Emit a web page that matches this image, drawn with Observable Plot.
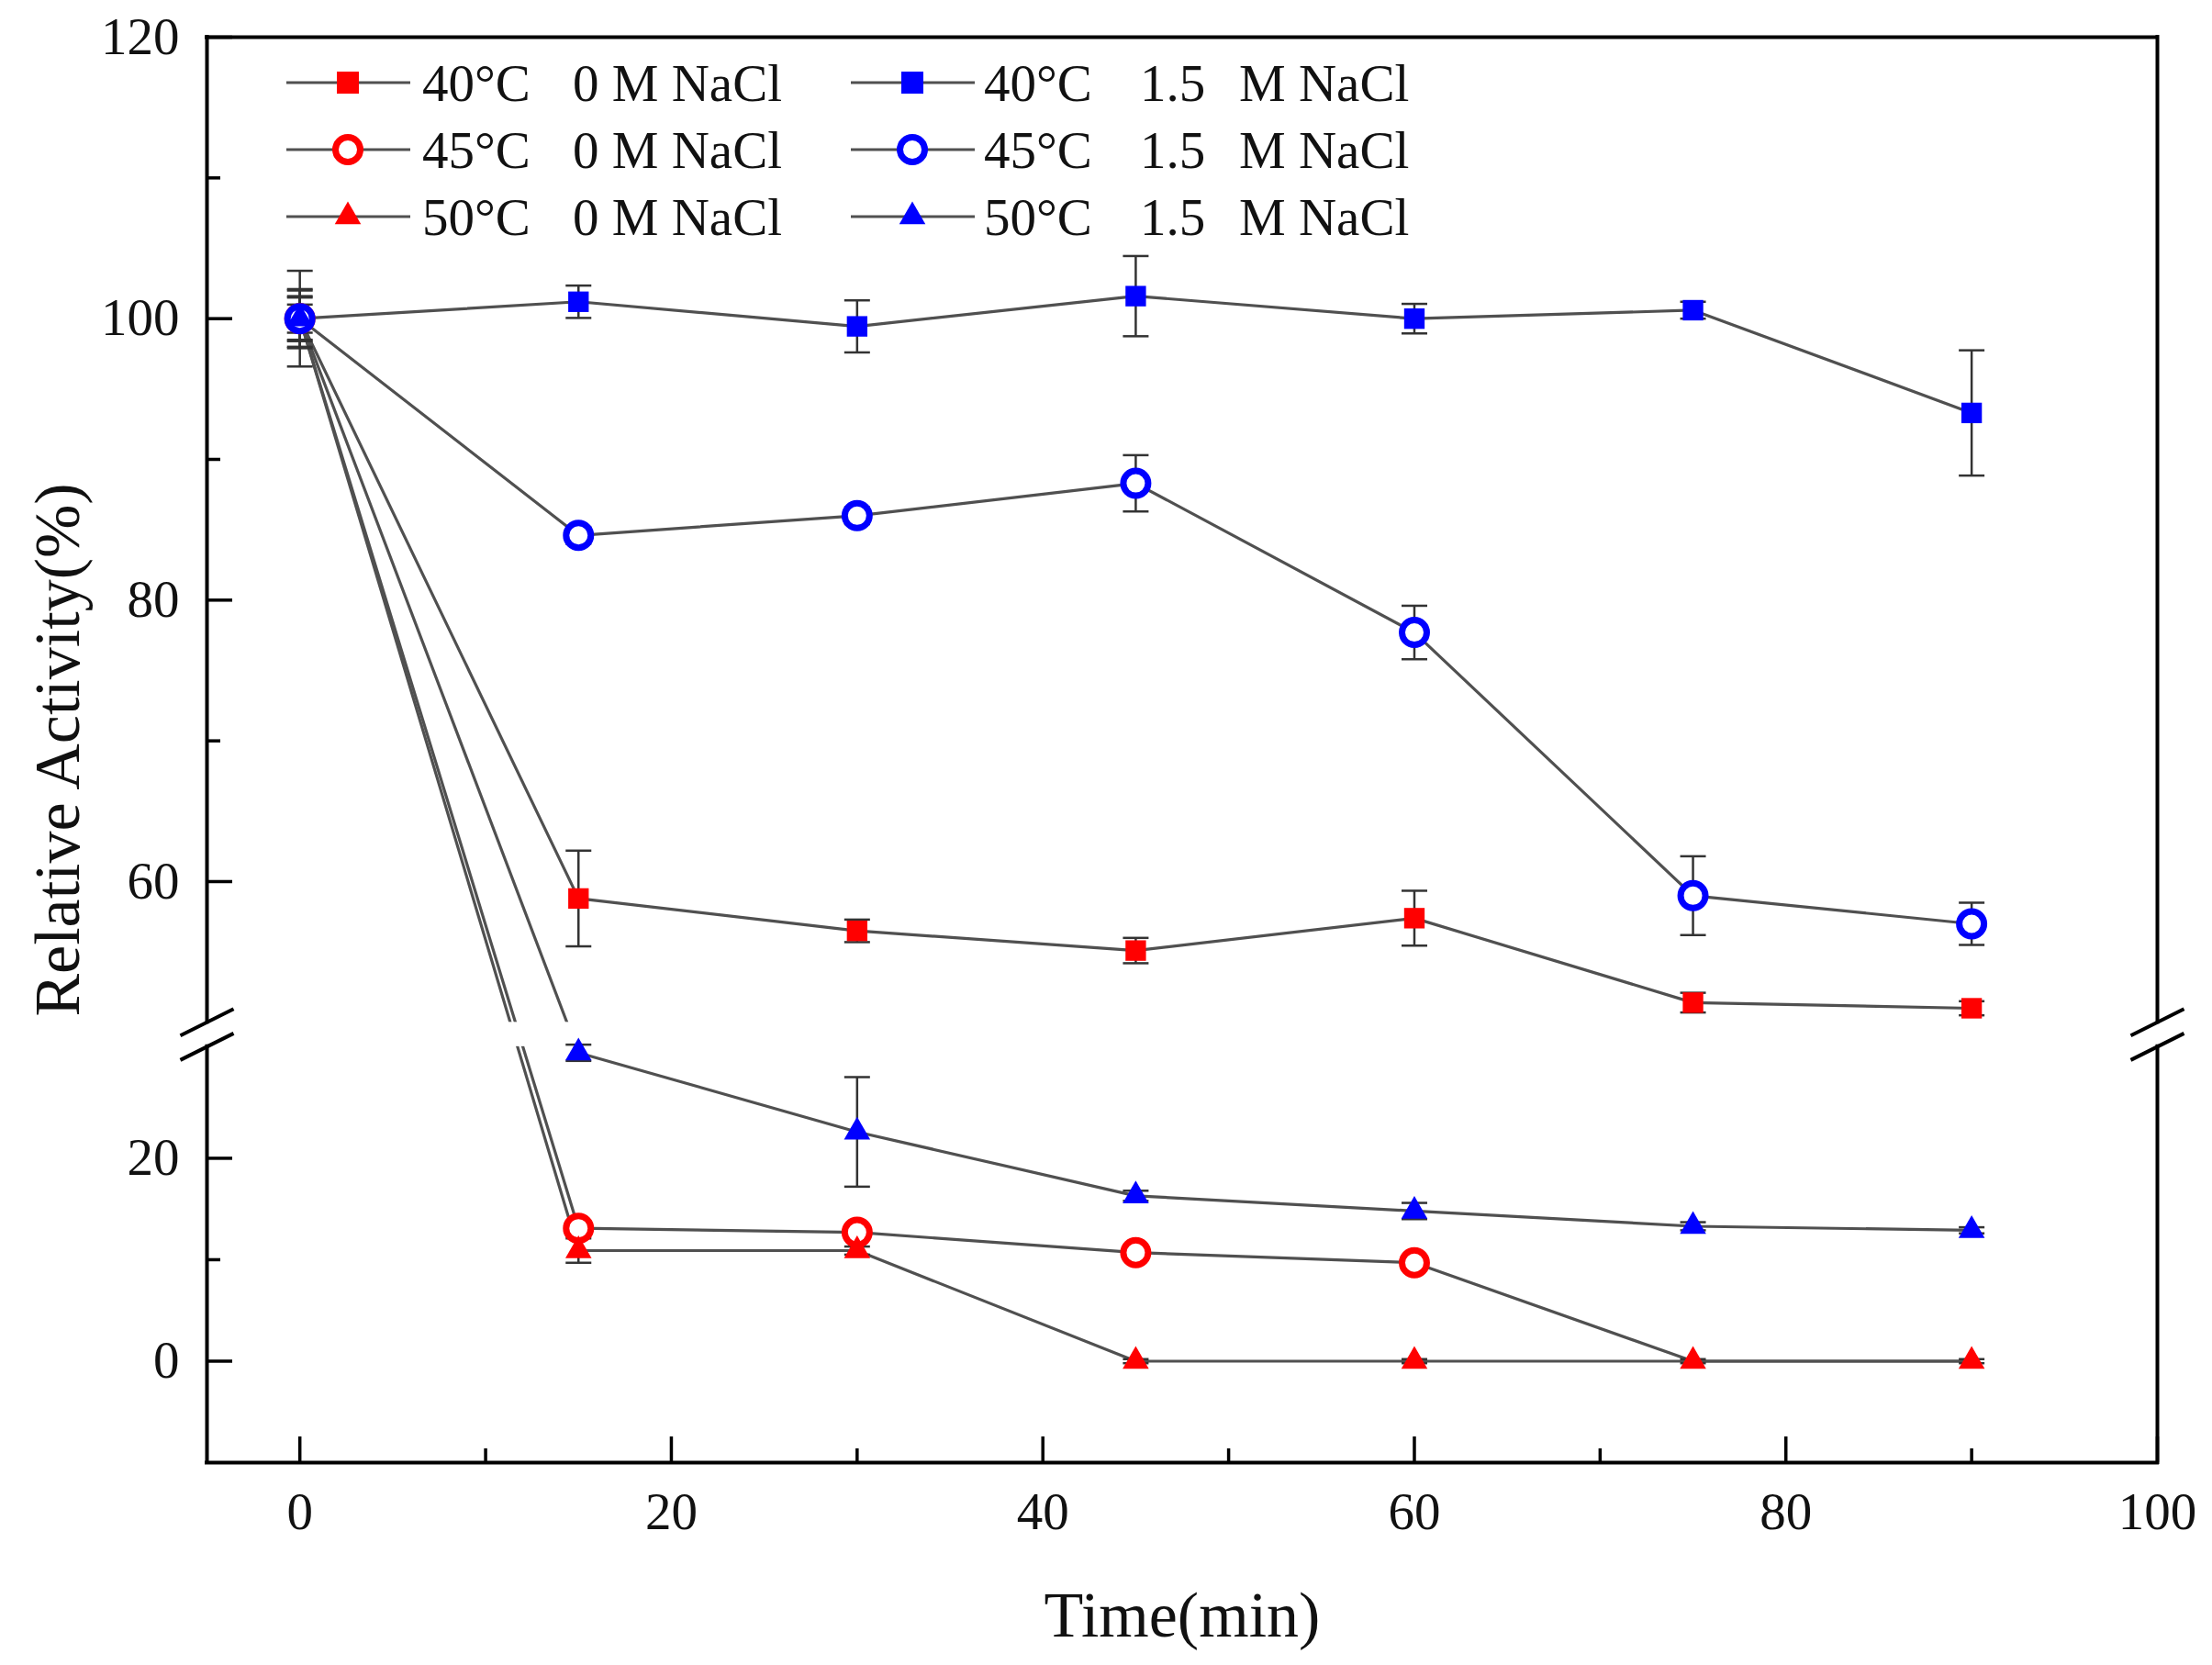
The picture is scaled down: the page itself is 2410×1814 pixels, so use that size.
<!DOCTYPE html>
<html>
<head>
<meta charset="utf-8">
<script src="https://cdn.jsdelivr.net/npm/d3@7"></script>
<script src="https://cdn.jsdelivr.net/npm/@observablehq/plot@0.6"></script>
<style>
  html, body { margin: 0; padding: 0; background: #fff; }
  #chart { position: relative; width: 2410px; height: 1814px; }
</style>
</head>
<body>
<div id="chart"></div>
<script>
// ---------------- DATA ----------------
const times = [0, 15, 30, 45, 60, 75, 90];

const seriesNames = ["40°C 0 M NaCl", "45°C 0 M NaCl", "50°C 0 M NaCl",
                     "40°C 1.5 M NaCl", "45°C 1.5 M NaCl", "50°C 1.5 M NaCl"];

const act40_0M  = [100, 58.8, 56.5, 55.1, 57.4, 51.4, 51.0];
const err40_0M  = [1.5, 3.4, 0.8, 0.9, 1.95, 0.7, 0.5];
const act45_0M  = [100, 13.1, 12.7, 10.7, 9.7, 0, 0];
const err45_0M  = [1.0, 0.5, 0.5, 0.3, 0.3, 0, 0];
const act50_0M  = [100, 10.9, 10.9, 0, 0, 0, 0];
const err50_0M  = [2.0, 1.2, 0.4, 0.2, 0.2, 0.2, 0.2];
const act40_15M = [100, 101.2, 99.45, 101.6, 100.0, 100.6, 93.3];
const err40_15M = [2.1, 1.15, 1.85, 2.85, 1.05, 0.6, 4.45];
const act45_15M = [100, 84.6, 86.0, 88.3, 77.7, 59.0, 57.0];
const err45_15M = [1.6, 0.6, 0.6, 2.0, 1.9, 2.8, 1.5];
const act50_15M = [100, 30.4, 22.6, 16.3, 14.8, 13.3, 12.9];
const err50_15M = [3.4, 0.8, 5.4, 0.5, 0.8, 0.4, 0.3];

const seriesValues = [act40_0M, act45_0M, act50_0M, act40_15M, act45_15M, act50_15M];
const seriesErrors = [err40_0M, err45_0M, err50_0M, err40_15M, err45_15M, err50_15M];

const xTickValues = [0, 20, 40, 60, 80, 100];
const xMinorTicks = [10, 30, 50, 70, 90];
const yTickValues = [0, 20, 60, 80, 100, 120];
const yMinorTicks = [10, 70, 90, 110];

const legendTemps = ["40°C", "45°C", "50°C"];
const legendSaltParts = [["0 M NaCl"], ["1.5", "M NaCl"]];

const xLabel = "Time(min)";
const yLabel = "Relative Activity(%)";

// ---------------- STYLE ----------------
const seriesColors  = ["#ff0000", "#ff0000", "#ff0000", "#0000ff", "#0000ff", "#0000ff"];
const seriesSymbols = ["square", "circle", "triangle", "square", "circle", "triangle"];
const FONT = "Liberation Serif";

// ---------------- BROKEN AXIS ----------------
const X_MIN = -5, X_MAX = 100;
const Y_MIN = -10, LOW_MAX = 31, UP_MIN = 50, UP_MAX = 120;
const GAP = 2.4, K = 1.3873;
const G = LOW_MAX + GAP;
const SPLIT = (LOW_MAX + UP_MIN) / 2;
const T = v => v < SPLIT ? v : G + (v - UP_MIN) * K;
const Tinv = t => t <= LOW_MAX ? t : UP_MIN + (t - G) / K;

const W = 2410, H = 1814;
const mL = 225, mR = 60, mT = 40, mB = 221;
const innerW = W - mL - mR, innerH = H - mT - mB;

// rows
const rows = seriesNames.flatMap((name, si) =>
  times.map((t, i) => ({series: name, si, t, v: seriesValues[si][i], e: seriesErrors[si][i]})));

const capSymbol = {draw(ctx, size) { const r = Math.sqrt(size / Math.PI); ctx.moveTo(-r, 0); ctx.lineTo(r, 0); }};
const breakSymbol = {draw(ctx, size) { const r = Math.sqrt(size / Math.PI); ctx.moveTo(-r, r / 2); ctx.lineTo(r, -r / 2); }};

const LINE_COLOR = "#505050";
const ERR_COLOR = "#333";

const markerMarks = [];
seriesNames.forEach((name, si) => {
  const pts = rows.filter(d => d.si === si && !(seriesSymbols[si] === "circle" && d.v === 0));
  const sym = seriesSymbols[si];
  if (sym === "circle") {
    markerMarks.push(Plot.dot(pts, {x: "t", y: d => T(d.v), r: 13.5, fill: "white", stroke: seriesColors[si], strokeWidth: 7}));
  } else if (sym === "square") {
    markerMarks.push(Plot.dot(pts, {x: "t", y: d => T(d.v), symbol: "square", r: 12.6, fill: seriesColors[si], stroke: "none"}));
  } else {
    markerMarks.push(Plot.dot(pts, {x: "t", y: d => T(d.v), symbol: "triangle", r: 10.6, fill: seriesColors[si], stroke: "none"}));
  }
});

const errRows = rows.filter(d => d.e > 0);
const breakPts = [[X_MIN, G], [X_MIN, LOW_MAX], [X_MAX, G], [X_MAX, LOW_MAX]];

const chart = Plot.plot({
  width: W, height: H,
  marginLeft: mL, marginRight: mR, marginTop: mT, marginBottom: mB,
  style: {fontFamily: FONT, background: "white", color: "black"},
  x: {domain: [X_MIN, X_MAX]},
  y: {domain: [T(Y_MIN), T(UP_MAX)]},
  marks: [
    Plot.line(rows, {x: "t", y: d => T(d.v), z: "series", stroke: LINE_COLOR, strokeWidth: 3.2}),
    // white band hiding lines across the axis break
    Plot.rect([0], {x1: X_MIN, x2: X_MAX, y1: LOW_MAX, y2: G, fill: "white"}),
    Plot.ruleX(errRows, {x: "t", y1: d => T(d.v - d.e), y2: d => T(d.v + d.e), stroke: ERR_COLOR, strokeWidth: 2.5}),
    Plot.dot(errRows, {x: "t", y: d => T(d.v + d.e), symbol: capSymbol, r: 14, stroke: ERR_COLOR, strokeWidth: 2.5}),
    Plot.dot(errRows, {x: "t", y: d => T(d.v - d.e), symbol: capSymbol, r: 14, stroke: ERR_COLOR, strokeWidth: 2.5}),
    ...markerMarks,
    // frame (broken)
    Plot.ruleY([T(Y_MIN), T(UP_MAX)], {y: d => d, stroke: "black", strokeWidth: 4, strokeLinecap: "square"}),
    Plot.ruleX([X_MIN, X_MAX], {x: d => d, y1: T(Y_MIN), y2: LOW_MAX, stroke: "black", strokeWidth: 4, strokeLinecap: "square"}),
    Plot.ruleX([X_MIN, X_MAX], {x: d => d, y1: G, y2: T(UP_MAX), stroke: "black", strokeWidth: 4, strokeLinecap: "square"}),
    Plot.dot(breakPts, {x: d => d[0], y: d => d[1], symbol: breakSymbol, r: 29, stroke: "black", strokeWidth: 4}),
    // inward ticks
    Plot.tickX(xTickValues, {x: d => d, insetTop: innerH - 28, stroke: "black", strokeWidth: 3.5}),
    Plot.tickX(xMinorTicks, {x: d => d, insetTop: innerH - 15, stroke: "black", strokeWidth: 3.5}),
    Plot.tickY(yTickValues.map(T), {y: d => d, insetRight: innerW - 28, stroke: "black", strokeWidth: 3.5}),
    Plot.tickY(yMinorTicks.map(T), {y: d => d, insetRight: innerW - 15, stroke: "black", strokeWidth: 3.5}),
    // tick labels
    Plot.axisX({ticks: xTickValues, tickSize: 0, tickPadding: 32, fontSize: 57, label: null, fill: "#111"}),
    Plot.axisY({ticks: yTickValues.map(T), tickFormat: d => String(Math.round(Tinv(d))), tickSize: 0, tickPadding: 30, fontSize: 57, label: null, fill: "#111"}),
    // axis titles
    Plot.text([xLabel], {text: d => d, frameAnchor: "bottom", dy: 167, fontSize: 70, lineAnchor: "middle", fill: "#111"}),
    Plot.text([yLabel], {text: d => d, frameAnchor: "left", dx: -162, rotate: -90, fontSize: 70, lineAnchor: "middle", textAnchor: "middle", fill: "#111"})
  ]
});

document.getElementById("chart").appendChild(chart);

// ---------------- LEGEND ----------------
const svg = d3.select(chart);
const lg = svg.append("g").attr("font-family", FONT).attr("font-size", 57).attr("fill", "#111").attr("text-anchor", "start");
const legendRowY = [90, 163, 236];
const legendColX = [312, 927];
const legendTextX = [[460, 624], [1072, 1242, 1350]];
[0, 1].forEach(col => {
  [0, 1, 2].forEach(row => {
    const si = col * 3 + row;
    const x0 = legendColX[col], y = legendRowY[row];
    lg.append("line").attr("x1", x0).attr("x2", x0 + 135).attr("y1", y).attr("y2", y)
      .attr("stroke", LINE_COLOR).attr("stroke-width", 3.2);
    const mx = x0 + 67;
    const sym = seriesSymbols[si];
    if (sym === "circle") {
      lg.append("circle").attr("cx", mx).attr("cy", y).attr("r", 13.5)
        .attr("fill", "white").attr("stroke", seriesColors[si]).attr("stroke-width", 7);
    } else {
      const type = sym === "square" ? d3.symbolSquare : d3.symbolTriangle;
      const size = sym === "square" ? 576 : Math.PI * 10.6 * 10.6;
      lg.append("path").attr("transform", `translate(${mx},${y})`)
        .attr("d", d3.symbol().type(type).size(size)()).attr("fill", seriesColors[si]);
    }
    const txt = lg.append("text").attr("y", y + 20).attr("text-anchor", "start");
    const parts = [legendTemps[row], ...legendSaltParts[col]];
    parts.forEach((p, k) => {
      txt.append("tspan").attr("x", legendTextX[col][k]).text(k < parts.length - 1 ? p + " " : p);
    });
  });
});
</script>
</body>
</html>
